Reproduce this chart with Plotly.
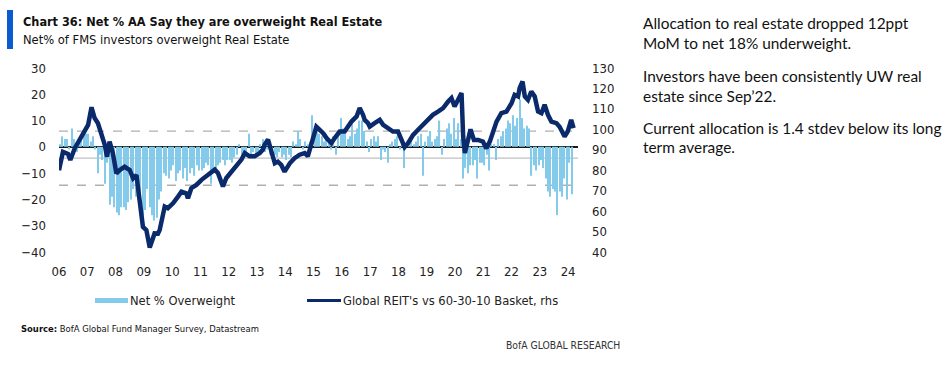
import plotly.graph_objects as go
import pandas as pd

# ---------------- data ----------------
# Net % of FMS investors overweight Real Estate, monthly Jan-2006 .. Feb-2024
net_2006 = [1, 4, 3, 3, -1, 7, 3, -2, 2, 4, 6, 5]
net_2007 = [5, 2, 4, -1, -10, -3, -5, -14, -6, -22, -19, -23]
net_2008 = [-25, -26, -23, -23, -24, -21, -20, -16, -19, -20, -25, -26]
net_2009 = [-24, -16, -23, -26, -28, -27, -20, -17, -10, -11, -12, -9]
net_2010 = [-7, -13, -10, -9, -12, -8, -13, -10, -8, -11, -7, -9]
net_2011 = [-9, -8, -6, -7, -14, -9, -8, -7, -6, -5, -7, -5]
net_2012 = [-5, -6, -4, -3, 1, -5, -3, -2, 5, -3, -2, -4]
net_2013 = [-2, 1, 3, -2, -1, -3, -2, -3, -4, -2, -4, -3]
net_2014 = [-5, -3, -4, 2, 1, 6, 3, -1, 2, 1, 2, 12]
net_2015 = [6, 8, 5, 4, 2, 5, 3, -1, 4, -3, 6, 11]
net_2016 = [7, 5, 3, 4, 9, 5, 7, 10, 10, 6, 2, -2]
net_2017 = [3, 4, 2, 4, -5, -1, -2, -6, 1, 2, 3, 4]
net_2018 = [-1, 2, -8, 1, 2, 3, 1, 2, 4, 5, -11, 2]
net_2019 = [4, 6, 2, 3, 4, 10, -3, 3, 7, 9, 5, 11]
net_2020 = [3, 9, 3, -12, -8, -10, -7, -7, -5, -12, -6, -6]
net_2021 = [-7, -3, -9, 1, 1, -5, 3, 4, 6, 7, 10, 9]
net_2022 = [12, 8, 11, 18, 11, 7, 8, 7, -11, -7, -9, -7]
net_2023 = [-5, -8, -12, -17, -19, -16, -17, -26, -17, -19, -12, -20]
net_2024 = [-6, -18]

# Global REIT's vs 60-30-10 Basket (rhs)
reit_dates = [
    "2006-01-01", "2006-02-21", "2006-04-27", "2006-05-27", "2006-07-24", "2006-09-24", "2006-11-28",
    "2007-01-12", "2007-02-25", "2007-04-06", "2007-05-19", "2007-07-02", "2007-08-15", "2007-09-13",
    "2007-10-16", "2007-11-28", "2008-01-12", "2008-02-25", "2008-04-27", "2008-07-02", "2008-08-15",
    "2008-09-27", "2008-11-06", "2008-12-20", "2009-02-02", "2009-03-18", "2009-05-19", "2009-07-02",
    "2009-07-24", "2009-08-15", "2009-09-27", "2009-11-06", "2010-01-12", "2010-03-18", "2010-05-01",
    "2010-07-02", "2010-07-24", "2010-09-06", "2010-11-10", "2011-01-15", "2011-04-09", "2011-07-06",
    "2011-08-15", "2011-10-19", "2011-12-02", "2012-02-06", "2012-04-09", "2012-06-14", "2012-07-28",
    "2012-09-27", "2012-12-02", "2013-02-06", "2013-03-18", "2013-04-09", "2013-05-23", "2013-07-06",
    "2013-08-19", "2013-09-27", "2013-11-10", "2013-12-23", "2014-02-28", "2014-05-01", "2014-07-06",
    "2014-09-09", "2014-10-19", "2014-12-02", "2015-02-06", "2015-03-22", "2015-05-05", "2015-06-18",
    "2015-08-19", "2015-10-01", "2015-12-05", "2016-02-06", "2016-03-22", "2016-05-05", "2016-07-10",
    "2016-08-19", "2016-10-01", "2016-10-23", "2016-12-05", "2016-12-27", "2017-02-28", "2017-05-05",
    "2017-06-18", "2017-08-19", "2017-10-23", "2017-12-27", "2018-02-10", "2018-03-22", "2018-05-05",
    "2018-07-10", "2018-09-09", "2018-11-14", "2019-01-19", "2019-03-22", "2019-05-27", "2019-08-01",
    "2019-10-05", "2019-11-17", "2019-12-27", "2020-02-10", "2020-03-26", "2020-04-16", "2020-05-08",
    "2020-06-18", "2020-07-20", "2020-09-02", "2020-10-27", "2020-12-27", "2021-02-10", "2021-03-26",
    "2021-05-08", "2021-06-21", "2021-08-22", "2021-10-27", "2022-01-01", "2022-02-10", "2022-03-26",
    "2022-04-16", "2022-05-23", "2022-06-21", "2022-08-01", "2022-09-13", "2022-10-27", "2022-12-09",
    "2023-01-22", "2023-03-04", "2023-04-16", "2023-05-30", "2023-08-04", "2023-09-13", "2023-11-17",
    "2023-12-27", "2024-02-10", "2024-03-12",
]
reit_vals = [
    80, 89, 88, 85, 90.8, 94.8, 99.7,
    102.2, 110.8, 105.5, 103, 98.1, 92.4, 86.6,
    94, 88.3, 78.5, 80.1, 81.7, 80.1, 76,
    77.6, 65.4, 52.3, 50.7, 42.2, 49.1, 49,
    50.7, 55.6, 62.2, 61.4, 63.8, 67.1, 69.5,
    68.7, 66.3, 71.2, 72.8, 75.3, 77.8, 80.3,
    78.7, 72.1, 76.2, 79.5, 81.9, 85.2, 88.4,
    86.8, 86.8, 88.4, 90.1, 92.5, 95, 88.5,
    83.4, 84.2, 82.6, 79.3, 83.4, 85.9, 87.6,
    88.4, 86.8, 92.5, 101.3, 99.7, 98.1, 95.7,
    93.2, 95.7, 98.9, 98.9, 101.3, 103.8, 106.3,
    110.4, 107.1, 104.6, 103, 101.3, 103, 104.6,
    102.2, 100.6, 98.9, 98.9, 94.8, 91.3, 93.2,
    97.3, 99.7, 102.2, 104.6, 107.1, 108.7, 110.4,
    113.6, 115.3, 111.2, 114.4, 117.7, 96.5, 88.4,
    94.8, 100, 94.8, 94.8, 94, 90.7, 94,
    98.9, 103.8, 107.9, 108.7, 112.8, 116.9, 116.1,
    120.2, 123.4, 116.1, 114.4, 118.5, 116.1, 108.7,
    107.9, 112, 107.1, 103.8, 103, 101.3, 96.5,
    98.9, 104.6, 100.6,
]

# long-term average and +/- 1 stdev of the net % series (lhs units)
avg_level = -4.3
upper_1sd = 6.0
lower_1sd = -14.6

x_ticks_first = "2006-01-01"
x_range = ["2006-01-01", "2024-05-08"]
lhs_range = [-40, 30]
rhs_range = [40, 130]

title_txt = "Chart 36: Net % AA Say they are overweight Real Estate"
subtitle_txt = "Net% of FMS investors overweight Real Estate"
legend_bar = "Net % Overweight"
legend_line = "Global REIT's vs 60-30-10 Basket, rhs"
source_txt = "<b>Source:</b> BofA Global Fund Manager Survey, Datastream"
brand_txt = "BofA GLOBAL RESEARCH"
side_lines = [
    "Allocation to real estate dropped 12ppt",
    "MoM to net 18% underweight.",
    "Investors have been consistently UW real",
    "estate since Sep\u201922.",
    "Current allocation is 1.4 stdev below its long",
    "term average.",
]

net_ow = (net_2006 + net_2007 + net_2008 + net_2009 + net_2010 + net_2011 + net_2012
          + net_2013 + net_2014 + net_2015 + net_2016 + net_2017 + net_2018 + net_2019
          + net_2020 + net_2021 + net_2022 + net_2023 + net_2024)
bar_months = pd.date_range("2006-01-01", periods=len(net_ow), freq="MS")

# ---------------- styling ----------------
W, H = 949, 365
ML, MR, MT, MB = 59, 371, 68, 113
PW, PH = W - ML - MR, H - MT - MB

NARROW = "DejaVu Sans Condensed, sans-serif"
TEXTF = "Lato, Noto Sans, sans-serif"
BAR_C = "#84CAEB"
LINE_C = "#0A2A6B"
TXT_C = "#222222"


def px_x(px):
    return (px - ML) / PW


def px_y(py):
    return (H - MB - py) / PH


fig = go.Figure()
fig.add_trace(go.Bar(x=bar_months, y=net_ow, marker_color=BAR_C, marker_line_width=0,
                     xperiod="M1", xperiodalignment="middle", name=legend_bar, yaxis="y"))
fig.add_trace(go.Scatter(x=reit_dates, y=reit_vals, mode="lines", name=legend_line,
                         line=dict(color=LINE_C, width=4.5), yaxis="y2"))

shapes = []
for lvl, dash, col in [(upper_1sd, "dash", "#B0B0B0"), (lower_1sd, "dash", "#B0B0B0"),
                       (avg_level, "solid", "#C0C0C0")]:
    shapes.append(dict(type="line", xref="paper", yref="y", x0=0, x1=1, y0=lvl, y1=lvl,
                       line=dict(color=col, width=1.4, dash=dash), layer="between"))

# title bar
shapes.append(dict(type="rect", xref="paper", yref="paper", x0=px_x(7), x1=px_x(13),
                   y0=px_y(49), y1=px_y(10), fillcolor="#0A5AD0", line_width=0))
# legend symbols
shapes.append(dict(type="rect", xref="paper", yref="paper", x0=px_x(95), x1=px_x(128),
                   y0=px_y(303), y1=px_y(298), fillcolor=BAR_C, line_width=0))
shapes.append(dict(type="line", xref="paper", yref="paper", x0=px_x(307), x1=px_x(341),
                   y0=px_y(300.5), y1=px_y(300.5), line=dict(color=LINE_C, width=3)))

ann = []


def add_text(txt, x, y, size, family, color=TXT_C, xanchor="left"):
    ann.append(dict(text=txt, x=px_x(x), y=px_y(y), xref="paper", yref="paper",
                    xanchor=xanchor, yanchor="middle", showarrow=False,
                    font=dict(size=size, family=family, color=color)))


add_text("<b>" + title_txt + "</b>", 21, 21, 12.6, NARROW, "#111111")
add_text(subtitle_txt, 21, 39, 12.8, NARROW, "#111111")
add_text(legend_bar, 128, 300, 12.8, NARROW)
add_text(legend_line, 341, 300, 12.8, NARROW)
add_text(source_txt, 19, 328, 9.4, NARROW, "#111111")
add_text(brand_txt, 622, 345, 10.3, NARROW, "#333333", xanchor="right")
for txt, yy in zip(side_lines, [23, 43, 76, 96, 128, 147]):
    add_text(txt, 641, yy, 15.4, TEXTF, "#111111")

fig.update_layout(
    width=W, height=H, margin=dict(l=ML, r=MR, t=MT, b=MB),
    plot_bgcolor="white", paper_bgcolor="white", showlegend=False, bargap=0.5,
    shapes=shapes, annotations=ann,
    xaxis=dict(type="date", range=x_range, tick0=x_ticks_first, dtick="M12", tickformat="%y",
               showgrid=False, zeroline=False, showline=False, ticks="", ticklabelstandoff=10,
               tickfont=dict(size=13, family=NARROW, color=TXT_C)),
    yaxis=dict(range=lhs_range, dtick=10, showgrid=False, zeroline=True, zerolinecolor="#1a1a1a",
               zerolinewidth=1.6, showline=False, ticks="", ticklabelstandoff=12,
               tickfont=dict(size=13, family=NARROW, color=TXT_C)),
    yaxis2=dict(range=rhs_range, dtick=10, overlaying="y", side="right", showgrid=False,
                zeroline=False, showline=False, ticks="", ticklabelstandoff=13,
                tickfont=dict(size=13, family=NARROW, color=TXT_C)),
)

fig.write_html("out.html", config={"displayModeBar": False},
               post_script="document.body.style.margin='0';document.body.style.overflow='hidden';")
